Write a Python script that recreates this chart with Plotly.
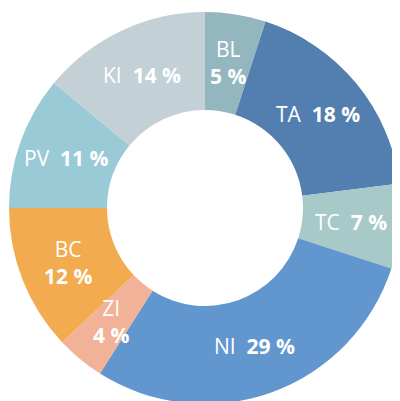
import math
import plotly.graph_objects as go

labels = ["BL", "TA", "TC", "NI", "ZI", "BC", "PV", "KI"]
values = [5, 18, 7, 29, 4, 12, 11, 14]
colors = ["#94b6bf", "#527fb0", "#a7c9c7", "#6196cf", "#f2b297", "#f2ab4f", "#9acad5", "#c3d0d6"]
two_line = ["BL", "ZI", "BC"]

W, H = 400, 401
dom_x = [0.0025, 0.9825]
dom_y = [0.0125, 0.99]
hole = 0.5

fig = go.Figure(go.Pie(
    labels=labels,
    values=values,
    sort=False,
    direction="clockwise",
    rotation=0,
    hole=hole,
    marker=dict(colors=colors, line=dict(width=0)),
    textinfo="none",
    domain=dict(x=dom_x, y=dom_y),
    showlegend=False,
    hoverinfo="skip",
))

# labels at the middle of the ring, at each slice's mid-angle (derived from the values)
cx = (dom_x[0] + dom_x[1]) / 2
cy = (dom_y[0] + dom_y[1]) / 2
r_px = min((dom_x[1] - dom_x[0]) * W, (dom_y[1] - dom_y[0]) * H) / 2
r_mid = r_px * (1 + hole) / 2
total = sum(values)
cum = 0
annotations = []
for lab, val in zip(labels, values):
    mid = (cum + val / 2) / total * 2 * math.pi
    cum += val
    x = cx + r_mid * math.sin(mid) / W
    y = cy + r_mid * math.cos(mid) / H
    if lab in two_line:
        txt = f"{lab}<br><b>{val} %</b>"
    else:
        txt = f"{lab}  <b>{val} %</b>"
    annotations.append(dict(
        x=x, y=y, xref="paper", yref="paper", text=txt, showarrow=False,
        xanchor="center", yanchor="middle",
        font=dict(family="Open Sans", size=21, color="white"),
    ))

fig.update_layout(
    width=W, height=H,
    margin=dict(l=0, r=0, t=0, b=0),
    paper_bgcolor="white",
    plot_bgcolor="white",
    annotations=annotations,
)

fig.write_html("out.html")
